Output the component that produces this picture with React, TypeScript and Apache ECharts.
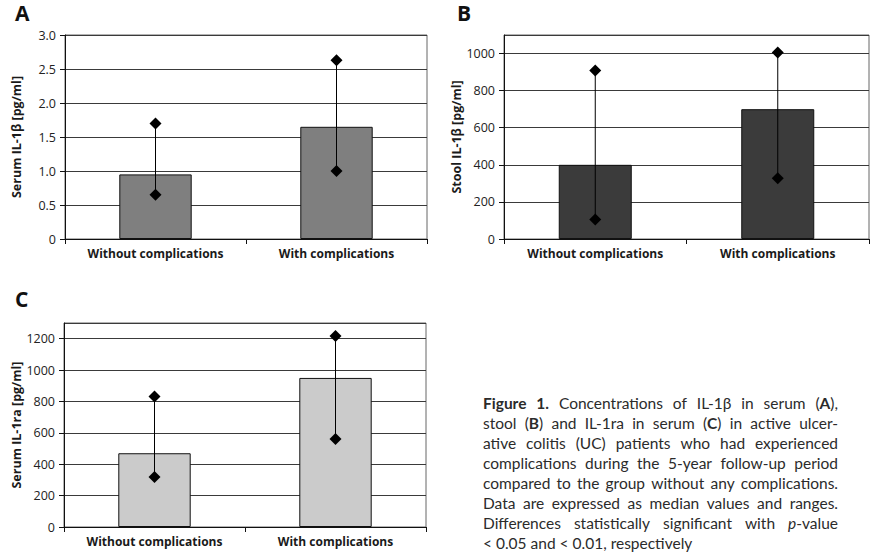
import React, { useEffect, useRef } from "react";
import * as echarts from "echarts";

const categories = ["Without complications", "With complications"];

// Panel A: Serum IL-1β [pg/ml]
const serumIL1bMedian = [0.95, 1.65];
const serumIL1bMin = [0.65, 1.0];
const serumIL1bMax = [1.7, 2.63];

// Panel B: Stool IL-1β [pg/ml]
const stoolIL1bMedian = [400, 700];
const stoolIL1bMin = [105, 328];
const stoolIL1bMax = [908, 1005];

// Panel C: Serum IL-1ra [pg/ml]
const serumIL1raMedian = [470, 950];
const serumIL1raMin = [318, 560];
const serumIL1raMax = [832, 1217];

const axisA = { min: 0, max: 3, interval: 0.5 };
const axisB = { min: 0, max: 1100, interval: 200 };
const axisC = { min: 0, max: 1300, interval: 200 };

const captionLines = [
  "**Figure** **1.** Concentrations of IL-1β in serum (**A**),",
  "stool (**B**) and IL-1ra in serum (**C**) in active ulcer-",
  "ative colitis (UC) patients who had experienced",
  "complications during the 5-year follow-up period",
  "compared to the group without any complications.",
  "Data are expressed as median values and ranges.",
  "Differences statistically significant with *p*-value",
  "< 0.05 and < 0.01, respectively",
];

const FONT = '"Open Sans", "Noto Sans", sans-serif';
const CAP_FONT = 'Lato, "Open Sans", sans-serif';
const CAP_SIZE = 15.5;

function parseWord(w: string) {
  const parts = w.split(/(\*\*[^*]+\*\*|\*[^*]+\*)/).filter((p) => p.length);
  return parts.map((p) => {
    if (p.startsWith("**")) return { t: p.slice(2, -2), b: true, i: false };
    if (p.startsWith("*")) return { t: p.slice(1, -1), b: false, i: true };
    return { t: p, b: false, i: false };
  });
}

function buildCaption(): any[] {
  const cv = document.createElement("canvas");
  const ctx = cv.getContext("2d")!;
  const fontStr = (b: boolean, i: boolean) =>
    `${i ? "italic " : ""}${b ? "bold " : ""}${CAP_SIZE}px ${CAP_FONT}`;
  const measure = (t: string, b: boolean, i: boolean) => {
    ctx.font = fontStr(b, i);
    return ctx.measureText(t).width;
  };
  const x0 = 483;
  const width = 355;
  const y0 = 403;
  const lh = 20;
  const out: any[] = [];
  captionLines.forEach((line, li) => {
    const words = line.split(" ").map(parseWord);
    const wWidths = words.map((segs) => segs.reduce((s, g) => s + measure(g.t, g.b, g.i), 0));
    const total = wWidths.reduce((a, b) => a + b, 0);
    const spaceW = measure(" ", false, false);
    const justify = li < captionLines.length - 1;
    const gap = justify ? (width - total) / (words.length - 1) : spaceW;
    let x = x0;
    words.forEach((segs, wi) => {
      let sx = x;
      segs.forEach((g) => {
        out.push({
          type: "text",
          x: sx,
          y: y0 + li * lh,
          style: {
            text: g.t,
            fill: "#2b2b2b",
            font: fontStr(g.b, g.i),
            textAlign: "left",
            verticalAlign: "middle",
          },
        });
        sx += measure(g.t, g.b, g.i);
      });
      x += wWidths[wi] + gap;
    });
  });
  return out;
}

function panel(
  idx: number,
  grid: any,
  axis: any,
  name: string,
  nameGap: number,
  color: string,
  median: number[],
  lo: number[],
  hi: number[],
  fmt: (v: number) => string
) {
  const gridOpt = { ...grid, show: true, borderColor: "#666", borderWidth: 1, backgroundColor: "transparent" };
  const xAxis = {
    type: "category",
    gridIndex: idx,
    data: categories,
    boundaryGap: true,
    axisLine: { show: true, lineStyle: { color: "#111", width: 1 } },
    axisTick: { show: true, length: 5, alignWithLabel: false, lineStyle: { color: "#111" } },
    axisLabel: { color: "#1a1a1a", fontWeight: "bold", fontSize: 12, fontFamily: FONT, margin: 8 },
    splitLine: { show: false },
  };
  const yAxis = {
    type: "value",
    gridIndex: idx,
    min: axis.min,
    max: axis.max,
    interval: axis.interval,
    name,
    nameLocation: "middle",
    nameGap,
    nameTextStyle: { color: "#1a1a1a", fontWeight: "bold", fontSize: 12.5, fontFamily: FONT },
    axisLine: { show: true, lineStyle: { color: "#111", width: 1 } },
    axisTick: { show: true, length: 5, lineStyle: { color: "#111" } },
    axisLabel: {
      color: "#222",
      fontSize: 12.5,
      fontFamily: FONT,
      margin: 9,
      showMaxLabel: axis.max % axis.interval === 0,
      formatter: fmt,
    },
    splitLine: { show: true, lineStyle: { color: "#3a3a3a", width: 1 } },
  };
  const bar = {
    type: "bar",
    xAxisIndex: idx,
    yAxisIndex: idx,
    data: median,
    barWidth: "40%",
    itemStyle: { color, borderColor: "#111", borderWidth: 1 },
    silent: true,
  };
  const err = {
    type: "custom",
    xAxisIndex: idx,
    yAxisIndex: idx,
    data: median.map((_, i) => [i, lo[i], hi[i]]),
    encode: { x: 0, y: [1, 2] },
    silent: true,
    z: 5,
    renderItem: (params: any, api: any) => {
      const c = api.value(0);
      const p1 = api.coord([c, api.value(1)]);
      const p2 = api.coord([c, api.value(2)]);
      const s = 6;
      const diamond = (p: number[]) => ({
        type: "polygon",
        shape: {
          points: [
            [p[0], p[1] - s],
            [p[0] + s, p[1]],
            [p[0], p[1] + s],
            [p[0] - s, p[1]],
          ],
        },
        style: { fill: "#000" },
      });
      return {
        type: "group",
        children: [
          {
            type: "line",
            shape: { x1: p1[0], y1: p1[1], x2: p2[0], y2: p2[1] },
            style: { stroke: "#000", lineWidth: 1 },
          },
          diamond(p1),
          diamond(p2),
        ],
      };
    },
  };
  return { gridOpt, xAxis, yAxis, series: [bar, err] };
}

export default function App() {
  const ref = useRef<HTMLDivElement>(null);
  useEffect(() => {
    if (!ref.current) return;
    const chart = echarts.init(ref.current, null, { renderer: "svg" });
    const fmtA = (v: number) => (v === 0 ? "0" : v.toFixed(1));
    const fmtN = (v: number) => String(v);
    const pA = panel(0, { left: 65, top: 35, width: 362, height: 204 }, axisA, "Serum IL-1β [pg/ml]", 42, "#7f7f7f", serumIL1bMedian, serumIL1bMin, serumIL1bMax, fmtA);
    const pB = panel(1, { left: 504, top: 35, width: 365, height: 204 }, axisB, "Stool IL-1β [pg/ml]", 38, "#3b3b3b", stoolIL1bMedian, stoolIL1bMin, stoolIL1bMax, fmtN);
    const pC = panel(2, { left: 64, top: 323, width: 362, height: 204 }, axisC, "Serum IL-1ra [pg/ml]", 41, "#cbcbcb", serumIL1raMedian, serumIL1raMin, serumIL1raMax, fmtN);
    const letters = [
      { t: "A", x: 15, y: 13 },
      { t: "B", x: 457, y: 13 },
      { t: "C", x: 15, y: 299 },
    ].map((l) => ({
      type: "text",
      x: l.x,
      y: l.y,
      style: {
        text: l.t,
        fill: "#111",
        font: `bold 21px ${FONT}`,
        textAlign: "left",
        verticalAlign: "middle",
      },
    }));
    chart.setOption({
      animation: false,
      backgroundColor: "#ffffff",
      grid: [pA.gridOpt, pB.gridOpt, pC.gridOpt],
      xAxis: [pA.xAxis, pB.xAxis, pC.xAxis],
      yAxis: [pA.yAxis, pB.yAxis, pC.yAxis],
      series: [...pA.series, ...pB.series, ...pC.series],
      graphic: [...letters, ...buildCaption()],
    });
    return () => chart.dispose();
  }, []);
  return (
    <div
      ref={ref}
      style={{ position: "absolute", left: 0, top: 0, width: 876, height: 559 }}
    />
  );
}
